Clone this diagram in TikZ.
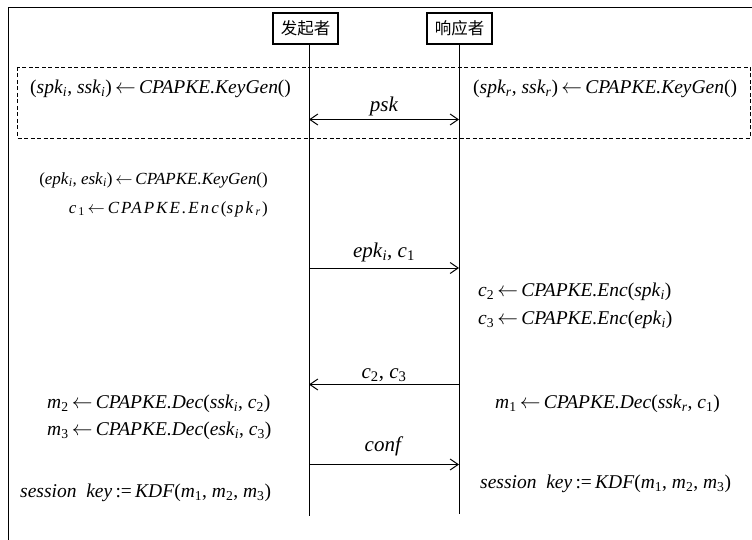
\documentclass[tikz,border=0pt]{standalone}
\usepackage{fontspec}
\setmainfont{Liberation Serif}
\newfontfamily\cjk{Noto Sans CJK SC}
\usetikzlibrary{arrows.meta}
\newcommand\sbs[1]{\textsubscript{\textit{#1}}}
\newcommand\snum[1]{\textsubscript{#1}}
\newcommand\la{\,$\leftarrow$\,}
\begin{document}
\begin{tikzpicture}[x=1pt,y=-1pt,
  hdr/.style={draw,line width=1.3pt,minimum width=65pt,minimum height=31pt,inner sep=0pt,font=\cjk\fontsize{16.5}{16.5}\selectfont},
  life/.style={line width=1pt},
  msg/.style={line width=1pt,-{Straight Barb[length=8pt,width=11pt,line width=1pt]}},
  msgb/.style={line width=1pt,{Straight Barb[length=8pt,width=11pt,line width=1pt]}-{Straight Barb[length=8pt,width=11pt,line width=1pt]}},
  big/.style={inner sep=0pt,font=\fontsize{19.5}{22}\selectfont},
  med/.style={inner sep=0pt,font=\fontsize{17}{20}\selectfont},
  lbl/.style={inner sep=0pt,font=\fontsize{21}{22}\selectfont}]
\useasboundingbox (0,0) rectangle (752,540);
% outer frame (cut off at right and bottom)
\draw[line width=1pt] (8,540) -- (8,7.5) -- (752,7.5);
% dashed box
\draw[line width=0.9pt,dash pattern=on 4pt off 2.5pt] (17,67) rectangle (750,138);
% headers
\node[hdr] (I) at (305.5,28.5) {发起者};
\node[hdr] (R) at (459.5,28.5) {响应者};
\coordinate (Ib) at (309,516);
\coordinate (Rb) at (459,514);
\draw[life] (I.south -| Ib) -- (Ib);
\draw[life] (R.south -| Rb) -- (Rb);
% message coordinates
\coordinate (i1) at (309,119.5); \coordinate (r1) at (459,119.5);
\coordinate (i2) at (309,268); \coordinate (r2) at (459,268);
\coordinate (i3) at (309,384.5); \coordinate (r3) at (459,384.5);
\coordinate (i4) at (309,464.5); \coordinate (r4) at (459,464.5);
\draw[msgb] (i1) -- node[lbl,above=3pt] (psk) {\textit{psk}} (r1);
\draw[msg] (i2) -- node[lbl,above=6pt] (m1l) {\textit{epk}\sbs{i}, \textit{c}\snum{1}} (r2);
\draw[msg] (r3) -- node[lbl,above=2pt] (m2l) {\textit{c}\snum{2}, \textit{c}\snum{3}} (i3);
\draw[msg] (i4) -- node[lbl,above=8pt] (m3l) {\textit{conf}} (r4);
% computations
\node[big,anchor=west] (t1) at (30,89) {(\textit{spk}\sbs{i}, \textit{ssk}\sbs{i})\la\textit{CPAPKE.KeyGen}()};
\node[big,anchor=west] (t2) at (473,89) {(\textit{spk}\sbs{r}, \textit{ssk}\sbs{r})\la\textit{CPAPKE.KeyGen}()};
\node[med,anchor=east] (t3) at (268,180) {(\textit{epk}\sbs{i}, \textit{esk}\sbs{i})\la\textit{CPAPKE.KeyGen}()};
\node[med,anchor=east] (t4) at (268,209) {\addfontfeature{LetterSpace=12}\textit{c}\snum{1}\la\textit{CPAPKE.Enc}(\textit{spk}\sbs{r})};
\node[big,anchor=west] (t5) at (478,292) {\textit{c}\snum{2}\la\textit{CPAPKE.Enc}(\textit{spk}\sbs{i})};
\node[big,anchor=west] (t6) at (478,320) {\textit{c}\snum{3}\la\textit{CPAPKE.Enc}(\textit{epk}\sbs{i})};
\node[big,anchor=west] (t7) at (47,404) {\textit{m}\snum{2}\la\textit{CPAPKE.Dec}(\textit{ssk}\sbs{i}, \textit{c}\snum{2})};
\node[big,anchor=west] (t8) at (47,431) {\textit{m}\snum{3}\la\textit{CPAPKE.Dec}(\textit{esk}\sbs{i}, \textit{c}\snum{3})};
\node[big,anchor=west] (t9) at (495,404) {\textit{m}\snum{1}\la\textit{CPAPKE.Dec}(\textit{ssk}\sbs{r}, \textit{c}\snum{1})};
\node[big,anchor=west] (t10) at (20,493) {\textit{session\ \ key}\,:=\,\textit{KDF}(\textit{m}\snum{1}, \textit{m}\snum{2}, \textit{m}\snum{3})};
\node[big,anchor=west] (t11) at (480,484) {\textit{session\ \ key}\,:=\,\textit{KDF}(\textit{m}\snum{1}, \textit{m}\snum{2}, \textit{m}\snum{3})};
\end{tikzpicture}
\end{document}
